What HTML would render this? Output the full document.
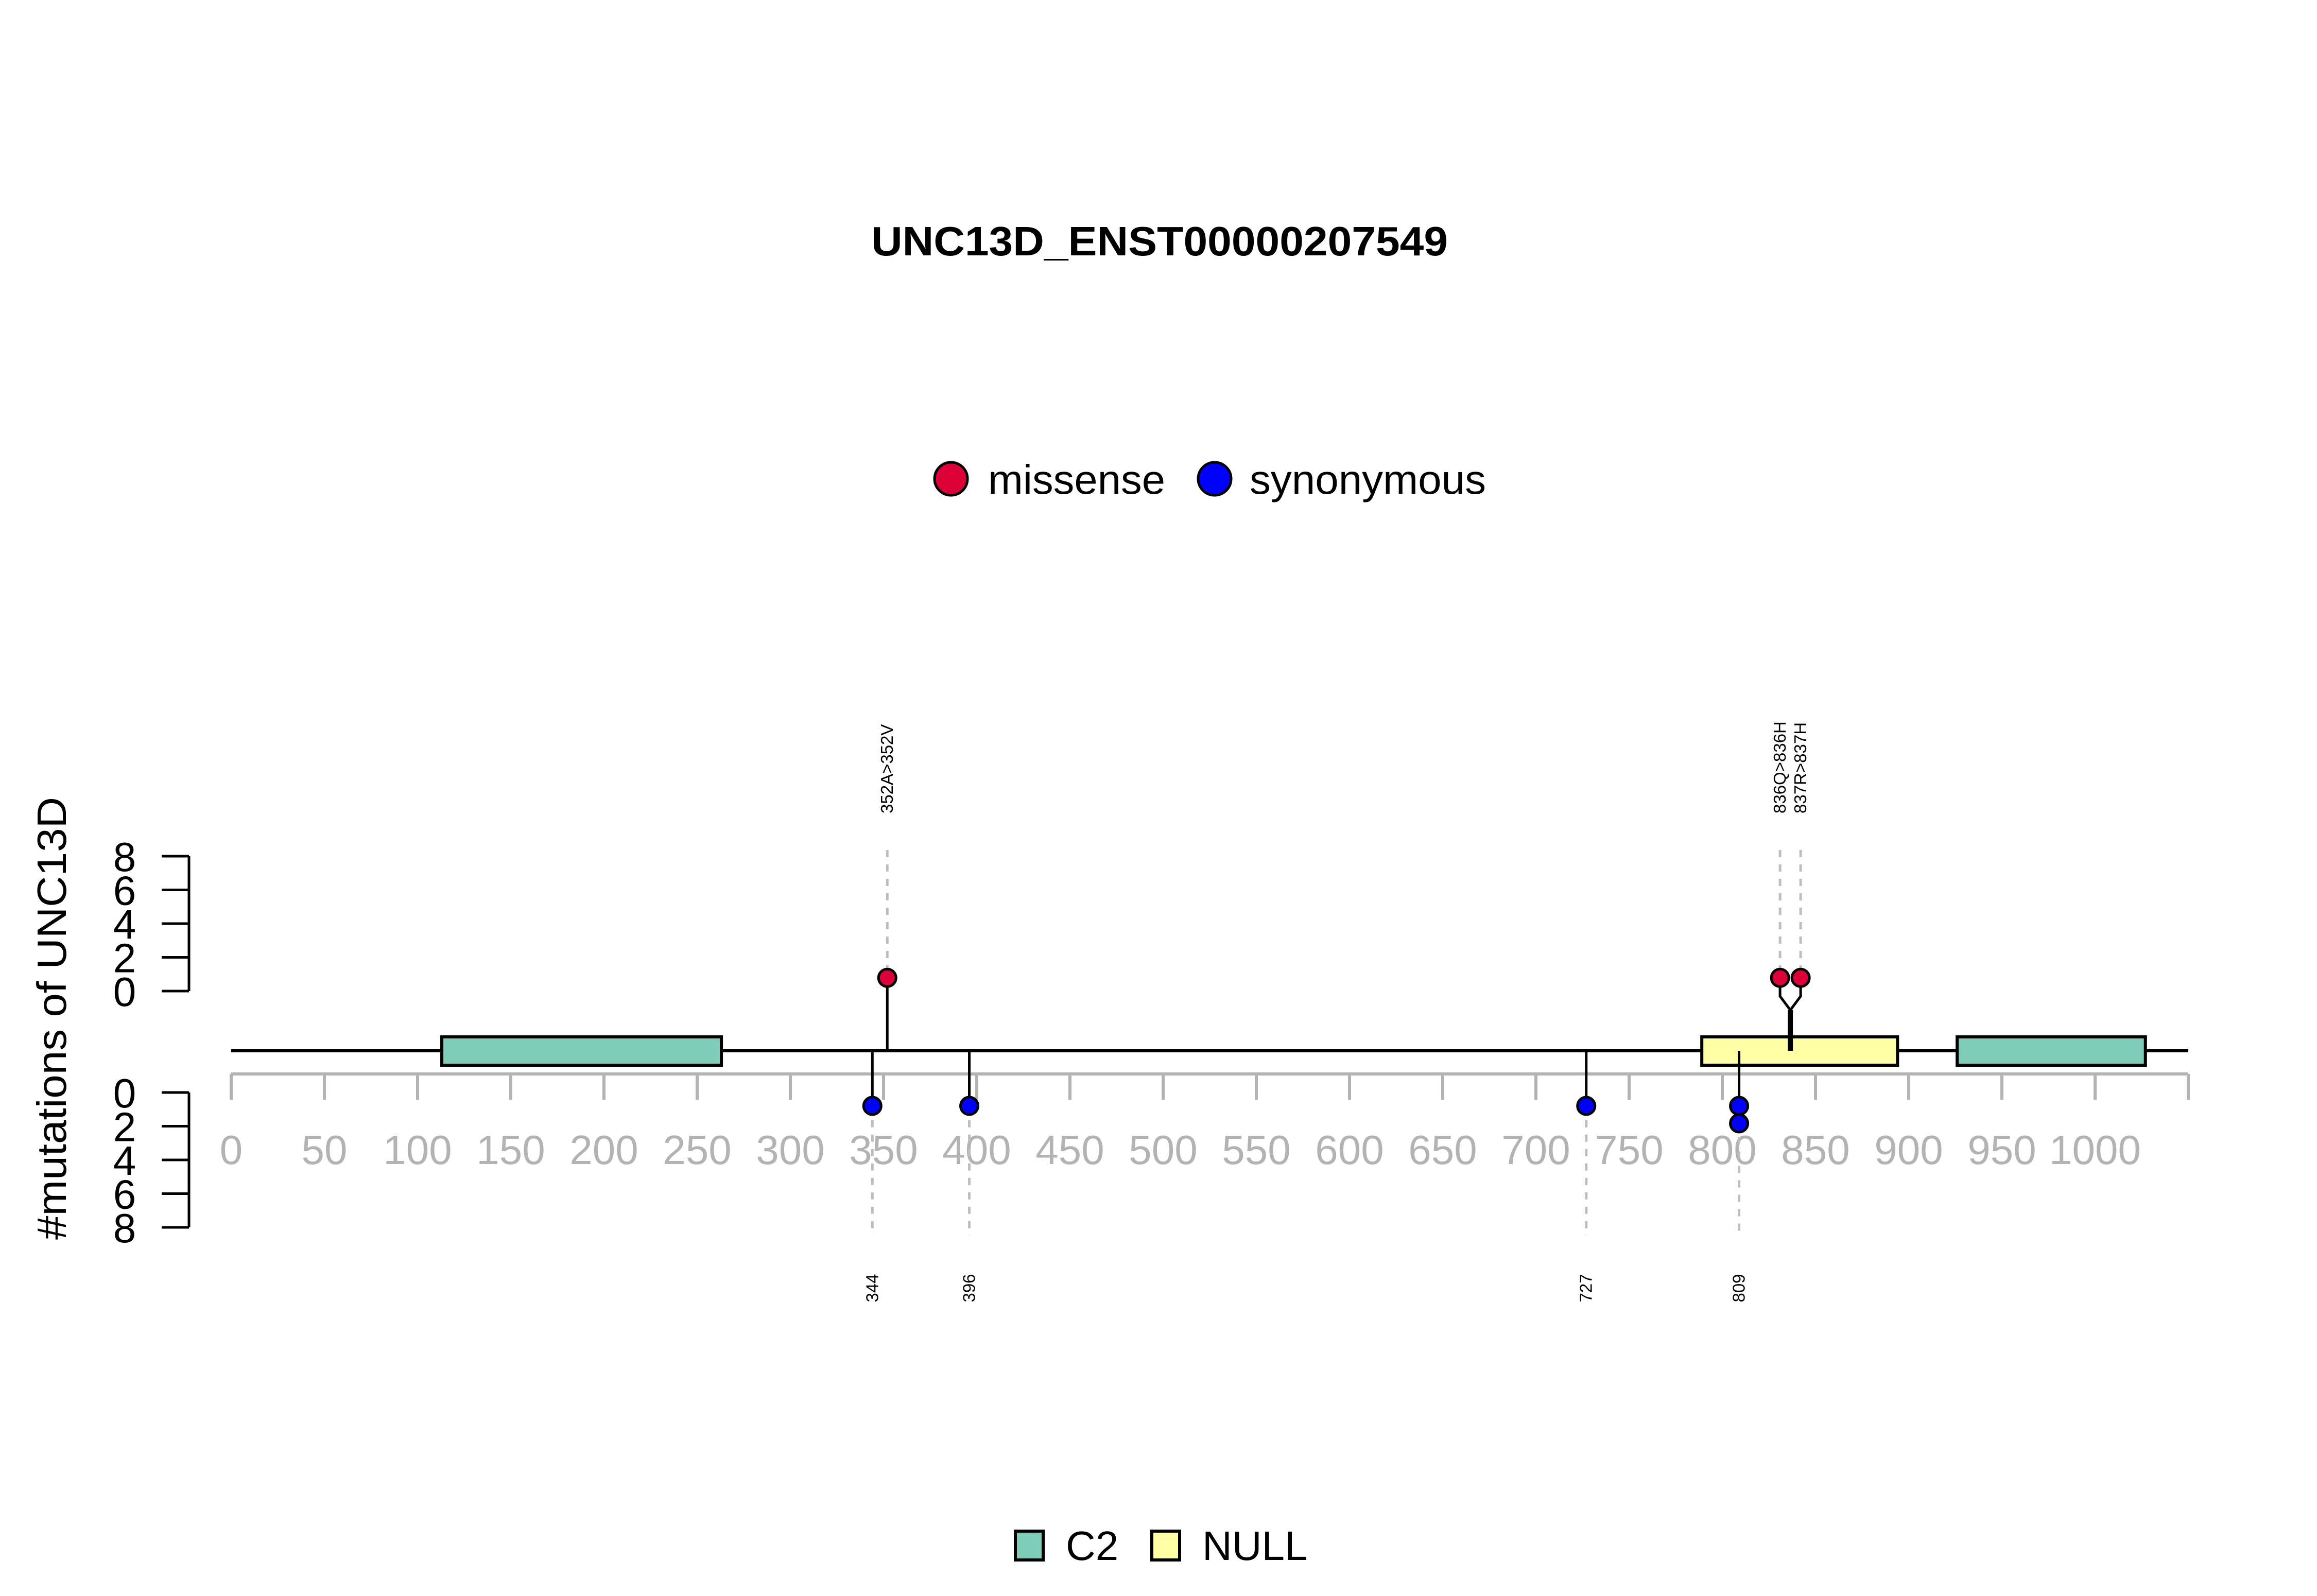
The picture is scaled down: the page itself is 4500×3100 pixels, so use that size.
<!DOCTYPE html>
<html><head><meta charset="utf-8"><style>
html,body{margin:0;padding:0;background:#fff;}
svg{display:block;font-family:"Liberation Sans",Arial,sans-serif;}
</style></head><body>
<svg id="chart" width="4500" height="3100" viewBox="0 0 4500 3100" xmlns="http://www.w3.org/2000/svg">
<rect width="4500" height="3100" fill="#fff"/>
<text x="2252" y="496" text-anchor="middle" font-size="80" font-weight="bold" textLength="1120" lengthAdjust="spacingAndGlyphs">UNC13D_ENST00000207549</text>
<g>
<circle cx="1847" cy="930" r="32" fill="#dc0039" stroke="#000" stroke-width="5"/>
<text x="1919" y="959" font-size="80" textLength="344" lengthAdjust="spacingAndGlyphs">missense</text>
<circle cx="2359" cy="930" r="32" fill="#0000ff" stroke="#000" stroke-width="5"/>
<text x="2427" y="959" font-size="80" textLength="459" lengthAdjust="spacingAndGlyphs">synonymous</text>
</g>
<text transform="translate(128,1978) rotate(-90)" text-anchor="middle" font-size="80" textLength="860" lengthAdjust="spacingAndGlyphs">#mutations of UNC13D</text>
<g>
<rect x="1972" y="2974" width="54" height="56" fill="#7fccba" stroke="#000" stroke-width="6"/>
<text x="2070" y="3030" font-size="80">C2</text>
<rect x="2237" y="2974" width="54" height="56" fill="#ffffa5" stroke="#000" stroke-width="6"/>
<text x="2335" y="3030" font-size="80">NULL</text>
</g>
<g id="plot"></g>
</svg>
<script>
const tickValues=[0,50,100,150,200,250,300,350,400,450,500,550,600,650,700,750,800,850,900,950,1000];
const yTicks=[0,2,4,6,8];
const domainNames=["C2","NULL","C2"];
const domainStarts=[113,789,926];
const domainEnds=[263,894,1027];
const missensePos=[352,836,837];
const missenseCounts=[1,1,1];
const missenseLabels=["352A>352V","836Q>836H","837R>837H"];
const synPos=[344,396,727,809];
const synCounts=[1,1,1,2];
const synLabels=["344","396","727","809"];
const proteinLength=1050;

const NS="http://www.w3.org/2000/svg";
const g=document.getElementById('plot');
const X=v=>449+3.62*v;
const YU=v=>1925-32.75*v;
const YL=v=>2122+32.75*v;
const BB=2041;
function mk(tag,attrs,parent){const e=document.createElementNS(NS,tag);for(const k in attrs)e.setAttribute(k,attrs[k]);(parent||g).appendChild(e);return e;}

[[YU,'upper'],[YL,'lower']].forEach(([Y,n])=>{
  const ax=mk('path',{d:`M367 ${Y(yTicks[0])}V${Y(yTicks[yTicks.length-1])}`,stroke:'#000','stroke-width':5,fill:'none'});
  
  
  yTicks.forEach(t=>{
    const l=mk('line',{x1:314,x2:367,y1:Y(t),y2:Y(t),stroke:'#000','stroke-width':5});
    
    
    const tx=mk('text',{x:242,y:Y(t)+29,'text-anchor':'middle','font-size':80});
    tx.textContent=t;
    
    
  });
});

const xa=mk('line',{x1:X(0),x2:X(proteinLength),y1:2086,y2:2086,stroke:'#b3b3b3','stroke-width':6});


for(let v=0;v<=proteinLength;v+=50){
  const l=mk('line',{x1:X(v),x2:X(v),y1:2086,y2:2136,stroke:'#b3b3b3','stroke-width':6});
  
  
}
tickValues.forEach(v=>{
  const t=mk('text',{x:X(v),y:2261,'text-anchor':'middle','font-size':80,fill:'#b3b3b3'});
  t.textContent=v;
  
  
});

const bb=mk('line',{x1:X(0),x2:X(proteinLength),y1:BB,y2:BB,stroke:'#000','stroke-width':6});


domainNames.forEach((n,i)=>{
  const r=mk('rect',{x:X(domainStarts[i]),y:2014,width:X(domainEnds[i])-X(domainStarts[i]),height:55,fill:n==='C2'?'#7fccba':'#ffffa5',stroke:'#000','stroke-width':6});
  
  
});

const mx=missensePos.map(X);
const groups=[];
missensePos.forEach((p,i)=>{const last=groups[groups.length-1];if(last&&p-missensePos[last[last.length-1]]<=5)last.push(i);else groups.push([i]);});
groups.forEach(gr=>{
  const cx=gr.reduce((s,i)=>s+mx[i],0)/gr.length;
  gr.forEach((i,k)=>{
    const px=gr.length>1?cx+(k-(gr.length-1)/2)*40:cx;
    const cy=YU(missenseCounts[i])+7;
    const d=mk('line',{x1:px,x2:px,y1:1651,y2:cy,stroke:'#bebebe','stroke-width':5,'stroke-dasharray':'14,14'});
    
    
    if(gr.length>1){
      const s=mk('path',{d:`M${cx} ${BB}V1962L${px} 1935V${cy}`,stroke:'#000','stroke-width':5,fill:'none'});
      
      
    }else{
      const s=mk('line',{x1:px,x2:px,y1:BB,y2:cy,stroke:'#000','stroke-width':5});
      
      
    }
    const t=mk('text',{transform:`translate(${px+11},1580) rotate(-90)`,'font-size':33});
    t.textContent=missenseLabels[i];
    
    
  });
  if(gr.length>1){
    const s=mk('line',{x1:cx,x2:cx,y1:BB,y2:1962,stroke:'#000','stroke-width':10});
    
    
  }
  gr.forEach((i,k)=>{
    const px=gr.length>1?cx+(k-(gr.length-1)/2)*40:cx;
    const c=mk('circle',{cx:px,cy:YU(missenseCounts[i])+7,r:17,fill:'#dc0039',stroke:'#000','stroke-width':5});
    
    
  });
});

synPos.forEach((p,i)=>{
  const px=X(p);
  const last=YL(synCounts[i])-7;
  const d=mk('line',{x1:px,x2:px,y1:last,y2:2400,stroke:'#bebebe','stroke-width':5,'stroke-dasharray':'14,14'});
  
  
  const s=mk('line',{x1:px,x2:px,y1:BB,y2:YL(1)-7,stroke:'#000','stroke-width':5});
  
  
  for(let k=1;k<=synCounts[i];k++){
    const c=mk('circle',{cx:px,cy:2148+(k-1)*34,r:17,fill:'#0000ff',stroke:'#000','stroke-width':5});
    
    
  }
  const t=mk('text',{transform:`translate(${px+11},2502) rotate(-90)`,'font-size':33,'text-anchor':'middle'});
  t.textContent=synLabels[i];
  
  
});
</script>
</body></html>
